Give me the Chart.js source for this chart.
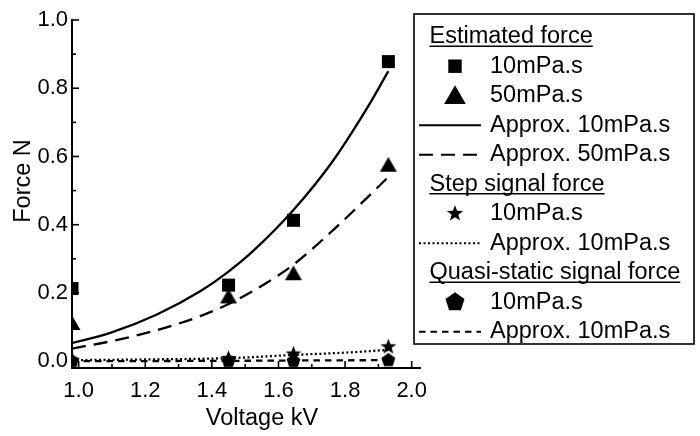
<!DOCTYPE html>
<html>
<head>
<meta charset="utf-8">
<script src="https://cdn.jsdelivr.net/npm/chart.js@4.4.1/dist/chart.umd.min.js"></script>
<style>
  html, body { margin: 0; padding: 0; background: #fff; }
</style>
</head>
<body>
<canvas id="forceChart" width="700" height="436"></canvas>
<script>
// measured points (kV / N)
const voltage = [0.98, 1.45, 1.645, 1.93];
const estimated10 = [0.213, 0.223, 0.413, 0.878];
const estimated50 = [0.106, 0.184, 0.252, 0.570];
const step10 = [0.003, 0.008, 0.021, 0.042];
const quasi10 = [0.000, 0.000, 0.000, 0.003];

// approximation curves
const approx10V = [0.98, 1.095, 1.235, 1.365, 1.445, 1.525, 1.645, 1.765, 1.865, 1.93];
const approx10 = [0.053, 0.083, 0.137, 0.205, 0.259, 0.324, 0.443, 0.589, 0.740, 0.850];
const approx50V = [0.98, 1.095, 1.235, 1.365, 1.455, 1.565, 1.645, 1.765, 1.865, 1.93];
const approx50 = [0.037, 0.058, 0.091, 0.132, 0.170, 0.230, 0.283, 0.385, 0.478, 0.540];
const stepApproxV = [0.98, 1.2, 1.455, 1.64, 1.8, 1.93];
const stepApprox = [0.003, 0.005, 0.009, 0.018, 0.025, 0.033];
const quasiApproxV = [0.98, 1.45, 1.645, 1.93];
const quasiApprox = [0.000, 0.001, 0.002, 0.003];

const xTickValues = [1.0, 1.1, 1.2, 1.3, 1.4, 1.5, 1.6, 1.7, 1.8, 1.9, 2.0];
const xTickLabels = ['1.0', '', '1.2', '', '1.4', '', '1.6', '', '1.8', '', '2.0'];
const yTickValues = [0.0, 0.1, 0.2, 0.3, 0.4, 0.5, 0.6, 0.7, 0.8, 0.9, 1.0];
const yTickLabels = ['0.0', '', '0.2', '', '0.4', '', '0.6', '', '0.8', '', '1.0'];

const groupTitles = ['Estimated force', 'Step signal force', 'Quasi-static signal force'];

const FONT = '"Liberation Sans", Arial, sans-serif';

function pts(xs, ys) {
  return xs.map((x, i) => ({ x, y: ys[i] }));
}

function tracePath(g, kind, cx, cy, r) {
  g.beginPath();
  if (kind === 'square') {
    const h = r * Math.SQRT1_2;
    g.rect(cx - h, cy - h, 2 * h, 2 * h);
  } else if (kind === 'triangle') {
    for (let k = 0; k < 3; k++) {
      const a = -Math.PI / 2 + k * 2 * Math.PI / 3;
      const px = cx + Math.cos(a) * r, py = cy + Math.sin(a) * r;
      k ? g.lineTo(px, py) : g.moveTo(px, py);
    }
  } else if (kind === 'star') {
    for (let k = 0; k < 10; k++) {
      const a = -Math.PI / 2 + k * Math.PI / 5;
      const rr = k % 2 ? r * 0.42 : r;
      const px = cx + Math.cos(a) * rr, py = cy + Math.sin(a) * rr;
      k ? g.lineTo(px, py) : g.moveTo(px, py);
    }
  } else if (kind === 'pentagon') {
    for (let k = 0; k < 5; k++) {
      const a = -Math.PI / 2 + k * 2 * Math.PI / 5;
      const px = cx + Math.cos(a) * r, py = cy + Math.sin(a) * r;
      k ? g.lineTo(px, py) : g.moveTo(px, py);
    }
  }
  g.closePath();
}

function markerImage(kind, r) {
  const c = document.createElement('canvas');
  c.width = c.height = Math.ceil(r * 2 + 2);
  const g = c.getContext('2d');
  g.fillStyle = '#000';
  tracePath(g, kind, c.width / 2, c.height / 2, r);
  g.fill();
  return c;
}

function markerSet(label, group, kind, r, legendR, data) {
  return {
    label, group, marker: kind, legendR, data,
    showLine: false,
    pointStyle: markerImage(kind, r),
    pointRadius: r, pointHoverRadius: r,
    order: 0, clip: 0
  };
}

function lineSet(label, group, dash, data) {
  return {
    label, group, data,
    showLine: true,
    borderColor: '#000', borderWidth: 2.3, borderDash: dash,
    pointRadius: 0, pointHoverRadius: 0,
    cubicInterpolationMode: 'monotone',
    order: 1, clip: 0
  };
}

const datasets = [
  markerSet('10mPa.s', 0, 'square', 9.2, 9.5, pts(voltage, estimated10)),
  markerSet('50mPa.s', 0, 'triangle', 9.8, 12.5, pts(voltage, estimated50)),
  lineSet('Approx. 10mPa.s', 0, [], pts(approx10V, approx10)),
  lineSet('Approx. 50mPa.s', 0, [14, 8], pts(approx50V, approx50)),
  markerSet('10mPa.s', 1, 'star', 8.3, 8.5, pts(voltage, step10)),
  lineSet('Approx. 10mPa.s', 1, [2, 2.5], pts(stepApproxV, stepApprox)),
  markerSet('10mPa.s', 2, 'pentagon', 7.3, 10, pts(voltage, quasi10)),
  lineSet('Approx. 10mPa.s', 2, [6.5, 5], pts(quasiApproxV, quasiApprox))
];

// tick marks pointing into the plot, major ones longer
const innerTicks = {
  id: 'innerTicks',
  afterDraw(chart) {
    const { ctx, chartArea, scales } = chart;
    ctx.save();
    ctx.strokeStyle = '#000';
    ctx.lineWidth = 1.6;
    xTickValues.forEach((v, i) => {
      const px = scales.x.getPixelForValue(v);
      const len = xTickLabels[i] ? 7 : 4;
      ctx.beginPath();
      ctx.moveTo(px, chartArea.bottom);
      ctx.lineTo(px, chartArea.bottom - len);
      ctx.stroke();
    });
    yTickValues.forEach((v, i) => {
      const py = scales.y.getPixelForValue(v);
      const len = yTickLabels[i] ? 7 : 4;
      ctx.beginPath();
      ctx.moveTo(chartArea.left, py);
      ctx.lineTo(chartArea.left + len, py);
      ctx.stroke();
    });
    ctx.restore();
  }
};

const axisTitles = {
  id: 'axisTitles',
  afterDraw(chart) {
    const { ctx, chartArea } = chart;
    ctx.save();
    ctx.fillStyle = '#000';
    ctx.font = '23.5px ' + FONT;
    ctx.textAlign = 'center';
    ctx.textBaseline = 'middle';
    ctx.fillText('Voltage kV', (chartArea.left + chartArea.right) / 2 + 16, chartArea.bottom + 51);
    ctx.translate(chartArea.left - 48, (chartArea.top + chartArea.bottom) / 2 - 13);
    ctx.rotate(-Math.PI / 2);
    ctx.fillText('Force N', 0, 0);
    ctx.restore();
  }
};

const groupedLegend = {
  id: 'groupedLegend',
  afterDraw(chart) {
    const { ctx } = chart;
    const box = { left: 414, top: 14, right: 694, bottom: 344 };
    const pitch = 29.5;
    let y = box.top + 22.7;
    ctx.save();
    ctx.strokeStyle = '#000';
    ctx.fillStyle = '#000';
    ctx.lineWidth = 1.6;
    ctx.strokeRect(box.left, box.top, box.right - box.left, box.bottom - box.top);
    ctx.font = '23.5px ' + FONT;
    ctx.textBaseline = 'middle';
    groupTitles.forEach((title, gi) => {
      const tx = box.left + 15.5;
      ctx.fillText(title, tx, y);
      const w = ctx.measureText(title).width;
      ctx.lineWidth = 1.5;
      ctx.beginPath();
      ctx.moveTo(tx, y + 9.5);
      ctx.lineTo(tx + w, y + 9.5);
      ctx.stroke();
      y += pitch;
      chart.data.datasets.forEach(ds => {
        if (ds.group !== gi) return;
        if (ds.marker) {
          tracePath(ctx, ds.marker, box.left + 41, y + (ds.marker === 'triangle' ? 2 : 0), ds.legendR);
          ctx.fill();
        } else {
          ctx.save();
          ctx.lineWidth = 2;
          ctx.setLineDash(ds.borderDash);
          ctx.beginPath();
          ctx.moveTo(box.left + 5, y);
          ctx.lineTo(box.left + 67, y);
          ctx.stroke();
          ctx.restore();
        }
        ctx.fillText(ds.label, box.left + 76, y);
        y += pitch;
      });
    });
    ctx.restore();
  }
};

new Chart(document.getElementById('forceChart').getContext('2d'), {
  type: 'scatter',
  data: { datasets },
  options: {
    responsive: false,
    animation: false,
    devicePixelRatio: 1,
    layout: { padding: { left: 0, top: 20, right: 280, bottom: 0 } },
    plugins: { legend: { display: false }, tooltip: { enabled: false } },
    scales: {
      x: {
        type: 'linear',
        min: 0.98,
        max: 2.025,
        afterBuildTicks: s => { s.ticks = xTickValues.map(v => ({ value: v })); },
        afterFit: s => { s.height = 68; },
        grid: { display: false, drawTicks: false },
        border: { display: true, color: '#000', width: 2 },
        ticks: {
          autoSkip: false, maxRotation: 0, padding: 10, color: '#000',
          font: { family: FONT, size: 22 },
          callback: (v, i) => xTickLabels[i]
        }
      },
      y: {
        type: 'linear',
        min: -0.02,
        max: 1.0,
        afterBuildTicks: s => { s.ticks = yTickValues.map(v => ({ value: v })); },
        afterFit: s => { s.width = 72; },
        grid: { display: false, drawTicks: false },
        border: { display: true, color: '#000', width: 2 },
        ticks: {
          autoSkip: false, padding: 4, color: '#000',
          font: { family: FONT, size: 22 },
          callback: (v, i) => yTickLabels[i]
        }
      }
    }
  },
  plugins: [innerTicks, axisTitles, groupedLegend]
});
</script>
</body>
</html>
